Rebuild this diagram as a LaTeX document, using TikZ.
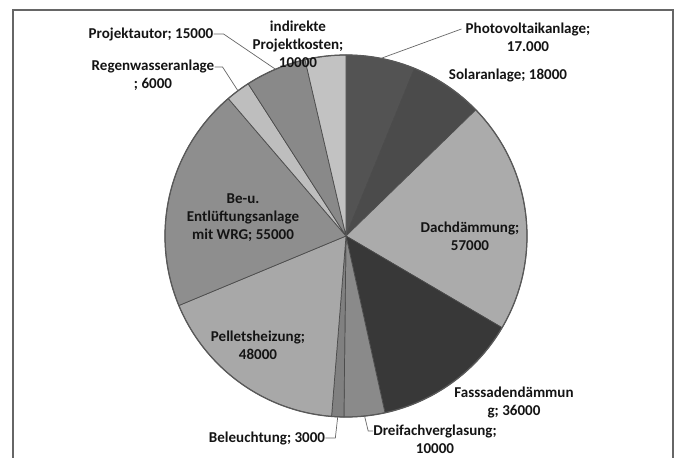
\documentclass[tikz,border=0pt]{standalone}
\usepackage{fontspec}
\setmainfont{Carlito}
\usepackage{xcolor}
\usetikzlibrary{positioning}

\definecolor{pvgray}{HTML}{535353}
\definecolor{solgray}{HTML}{4B4B4B}
\definecolor{dachgray}{HTML}{ABABAB}
\definecolor{fassgray}{HTML}{383838}
\definecolor{dreigray}{HTML}{8A8A8A}
\definecolor{belgray}{HTML}{808080}
\definecolor{pelgray}{HTML}{A8A8A8}
\definecolor{lueftgray}{HTML}{8E8E8E}
\definecolor{regengray}{HTML}{BEBEBE}
\definecolor{projgray}{HTML}{898989}
\definecolor{indgray}{HTML}{C2C2C2}

\begin{document}
\begin{tikzpicture}[
  lbl/.style={font=\fontsize{10.7}{12.8}\selectfont\bfseries,text=black!92,align=center,inner sep=0pt},
  leader/.style={draw=black!60,line width=0.5pt},
  slice/.style={draw=black!70,line width=0.5pt}]
  \useasboundingbox (0,0) rectangle (17,11.425);
  % frame (open at the bottom)
  \draw[black!60,line width=1.2pt] (0.325,-0.2) -- (0.325,11.175) -- (16.825,11.175) -- (16.825,-0.2);
  % pie, clockwise from the top
  \def\r{4.525}
  \coordinate (c) at (8.65,5.525);
  \foreach \a/\b/\col in {90/67.745/pvgray, 67.745/44.182/solgray, 44.182/-30.436/dachgray,
      -30.436/-77.564/fassgray, -77.564/-90.655/dreigray, -90.655/-94.582/belgray,
      -94.582/-157.418/pelgray, -157.418/-229.418/lueftgray, -229.418/-237.273/regengray,
      -237.273/-256.909/projgray, -256.909/-270/indgray}
    \filldraw[slice,fill=\col] (c) -- ++(\a:\r) arc[start angle=\a,end angle=\b,radius=\r] -- cycle;
  % dark rim
  \draw[black!65,line width=0.9pt] (c) circle[radius=\r];
  % leader ends on the rim
  \path (c) ++(78.87:\r) coordinate (pvpt);
  \path (c) ++(112.91:\r) coordinate (projpt);
  \path (c) ++(126.655:\r) coordinate (regenpt);
  \path (c) ++(-84.11:\r) coordinate (dreipt);
  \path (c) ++(-92.62:\r) coordinate (belpt);
  % labels
  \node[lbl] (pv) at (13.2,10.5) {Photovoltaikanlage;\\17.000};
  \node[lbl] (sol) at (12.7,9.55) {Solaranlage; 18000};
  \node[lbl] (dach) at (11.75,5.525) {Dachdämmung;\\57000};
  \node[lbl] (fass) at (12.85,1.375) {Fasssadendämmun\\g; 36000};
  \node[lbl] (drei) at (10.875,0.45) {Dreifachverglasung;\\10000};
  \node[lbl] (bel) at (6.675,0.475) {Beleuchtung; 3000};
  \node[lbl] (pel) at (6.45,2.8) {Pelletsheizung;\\48000};
  \node[lbl] (lueft) at (6.075,5.975) {Be-u.\\Entlüftungsanlage\\mit WRG; 55000};
  \node[lbl] (regen) at (3.825,9.55) {Regenwasseranlage\\; 6000};
  \node[lbl] (proj) at (3.775,10.575) {Projektautor; 15000};
  \node[lbl] (ind) at (7.45,10.325) {indirekte\\Projektkosten;\\10000};
  % leaders
  \draw[leader] ([xshift=-0.1cm,yshift=0.2cm]pv.west) -- (pvpt);
  \draw[leader] (proj.east) -- ++(0.25,0) -- (projpt);
  \draw[leader] ([yshift=0.2cm]regen.east) -- ++(0.2,0) -- (regenpt);
  \draw[leader] ([yshift=0.2cm]drei.west) -- ++(-0.12,0) -- (dreipt);
  \draw[leader] (bel.east) -- ++(0.25,0) -- (belpt);
\end{tikzpicture}
\end{document}
